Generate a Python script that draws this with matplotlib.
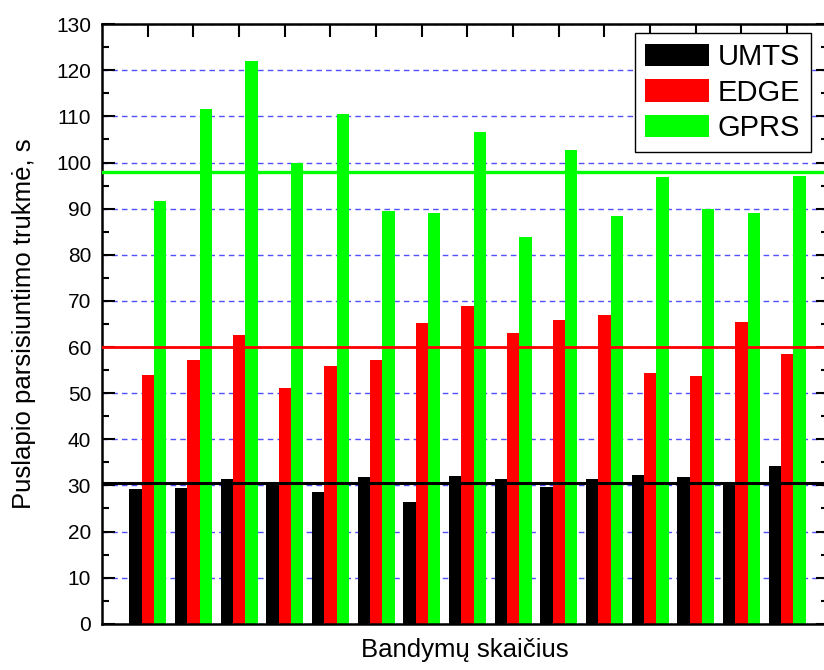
import numpy as np
import matplotlib
matplotlib.use("Agg")
import matplotlib.pyplot as plt
from matplotlib.ticker import MultipleLocator

plt.rcParams['font.family'] = ['Liberation Sans', 'DejaVu Sans']

# data
tests = np.arange(1, 16)
umts = [29.2, 29.4, 31.3, 30.2, 28.6, 31.9, 26.4, 32.0, 31.3, 29.7, 31.3, 32.2, 31.8, 30.8, 34.3]
edge = [54.0, 57.2, 62.7, 51.1, 55.9, 57.2, 65.3, 68.8, 63.0, 65.9, 67.0, 54.4, 53.7, 65.4, 58.5]
gprs = [91.7, 111.7, 122.0, 99.9, 110.5, 89.5, 89.1, 106.6, 83.8, 102.7, 88.4, 96.9, 90.0, 89.1, 97.1]
avg_umts = 30.5
avg_edge = 59.9
avg_gprs = 97.9

fig = plt.figure(figsize=(8.24, 6.7), dpi=100)
ax = fig.add_axes([0.124, 0.069, 0.881, 0.895])

w = 0.27
ax.bar(tests - w, umts, w, color='black', label='UMTS', zorder=2)
ax.bar(tests, edge, w, color='#ff0000', label='EDGE', zorder=2)
ax.bar(tests + w, gprs, w, color='#00ff00', label='GPRS', zorder=2)

# averages
ax.axhline(avg_umts, color='black', lw=2.2, zorder=3)
ax.axhline(avg_edge, color='#ff0000', lw=2.0, zorder=3)
ax.axhline(avg_gprs, color='#00ff00', lw=2.4, zorder=3)

ax.set_xlim(0, 15.9)
ax.set_ylim(0, 130)
ax.yaxis.set_major_locator(MultipleLocator(10))
ax.yaxis.set_minor_locator(MultipleLocator(5))
ax.grid(axis='y', which='major', color='#5050ff', linestyle=(0, (4, 3)), lw=1.0, zorder=1)

ax.set_xticks(tests)
ax.tick_params(axis='x', which='both', bottom=False, top=True, labelbottom=False,
               direction='in', length=9, width=1.5)
ax.tick_params(axis='y', which='major', left=True, right=True, direction='in',
               length=9, width=1.5, labelsize=15, pad=8)
ax.tick_params(axis='y', which='minor', left=True, right=True, direction='in',
               length=5, width=1.5)
for s in ax.spines.values():
    s.set_linewidth(1.8)

ax.set_xlabel('Bandymų skaičius', fontsize=18.5, labelpad=10)
ax.set_ylabel('Puslapio parsisiuntimo trukmė, s', fontsize=18.5, labelpad=14)

leg = ax.legend(loc='upper right', bbox_to_anchor=(0.976, 0.985), fontsize=21,
                fancybox=False, framealpha=1, edgecolor='black',
                handlelength=2.2, handleheight=0.8, labelspacing=0.25,
                handletextpad=0.3, borderpad=0.35, borderaxespad=0)
leg.get_frame().set_linewidth(1.0)

fig.savefig('out.png', dpi=100)
